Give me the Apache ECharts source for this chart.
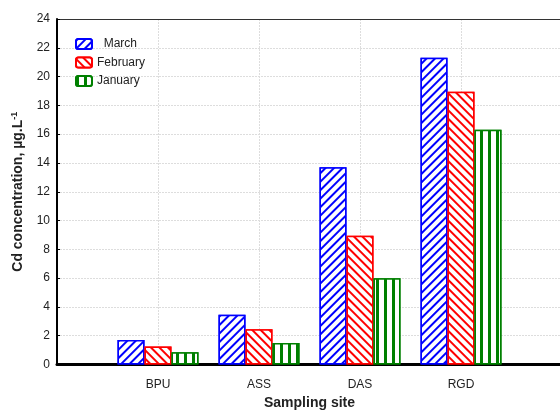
<!DOCTYPE html>
<html>
<head>
<meta charset="utf-8">
<script src="https://cdn.jsdelivr.net/npm/echarts@6/dist/echarts.min.js"></script>
<style>html,body{margin:0;padding:0;background:#fff;}#c{width:560px;height:412px;}</style>
</head>
<body>
<div id="c"></div>
<script>
var categories = ['', 'BPU', 'ASS', 'DAS', 'RGD', ''];
var seriesNames = ['March', 'February', 'January'];
var march = [null, 1.7, 3.45, 13.7, 21.3, null];
var february = [null, 1.25, 2.45, 8.95, 18.95, null];
var january = [null, 0.85, 1.5, 6.0, 16.3, null];
var yTicks = [0, 2, 4, 6, 8, 10, 12, 14, 16, 18, 20, 22, 24];

var font = 'Liberation Sans, Arial, sans-serif';
function mkSeries(name, data, col, decal) {
  return {
    name: name, type: 'bar', data: data,
    barWidth: 27, barGap: '0%',
    itemStyle: { color: '#fff', borderColor: col, borderWidth: 1.5, decal: decal },
    emphasis: { disabled: true }
  };
}
var chart = echarts.init(document.getElementById('c'), null, { renderer: 'canvas' });
chart.setOption({
  animation: false,
  backgroundColor: '#fff',
  grid: { left: 57, top: 19, width: 505, bottom: 47.5, outerBoundsMode: 'none', containLabel: false, show: false },
  legend: {
    orient: 'vertical', left: 75, top: 38, padding: 0, itemGap: 6.5, itemWidth: 16, itemHeight: 10,
    data: seriesNames,
    formatter: function (n) { return n === 'March' ? '  March' : n; },
    textStyle: { fontFamily: font, fontSize: 12, color: '#222' }
  },
  xAxis: [{
    type: 'category', data: categories, boundaryGap: false,
    name: 'Sampling site', nameLocation: 'middle', nameGap: 32,
    nameTextStyle: { fontFamily: font, fontSize: 14, fontWeight: 'bold', color: '#222' },
    axisLine: { lineStyle: { color: '#000', width: 3 } },
    axisTick: { show: true, inside: true, length: 3, lineStyle: { color: '#000' } },
    axisLabel: { fontFamily: font, fontSize: 12, color: '#222', margin: 14 },
    splitLine: { show: true, lineStyle: { color: '#ddd', type: [2, 1], width: 1 } }
  }, {
    type: 'category', data: categories, boundaryGap: false, position: 'top',
    axisLine: { show: true, onZero: false, lineStyle: { color: '#333', width: 1 } },
    axisTick: { show: false }, axisLabel: { show: false }, splitLine: { show: false }
  }],
  yAxis: {
    type: 'value', min: 0, max: 24, interval: 2,
    name: '{a|Cd concentration, µg.L}{s|-1}', nameLocation: 'middle', nameGap: 31,
    nameTextStyle: {
      rich: {
        a: { fontFamily: font, fontSize: 14, fontWeight: 'bold', color: '#222' },
        s: { fontFamily: font, fontSize: 9, fontWeight: 'bold', color: '#222', verticalAlign: 'top', padding: [0, 0, 7, 0] }
      }
    },
    axisLine: { show: true, lineStyle: { color: '#000', width: 2 } },
    axisTick: { show: true, inside: true, length: 3, lineStyle: { color: '#000' } },
    axisLabel: { fontFamily: font, fontSize: 12, color: '#222', margin: 7,
      formatter: function (v) { return yTicks.indexOf(v) >= 0 ? String(v) : ''; } },
    splitLine: { show: true, lineStyle: { color: '#ddd', type: [2, 1], width: 1 } }
  },
  series: [
    mkSeries('March', march, '#0000ff', { symbol: 'rect', color: '#0000ff', backgroundColor: '#fff', dashArrayX: [1, 0], dashArrayY: [1.2, 3.6], rotation: -Math.PI / 4 }),
    mkSeries('February', february, '#ff0000', { symbol: 'rect', color: '#ff0000', backgroundColor: '#fff', dashArrayX: [1, 0], dashArrayY: [1.2, 3.6], rotation: Math.PI / 4 }),
    mkSeries('January', january, '#008000', { symbol: 'rect', color: '#008000', backgroundColor: '#fff', dashArrayX: [2.5, 4.5], dashArrayY: [1, 0], rotation: 0 })
  ]
});
</script>
</body>
</html>
